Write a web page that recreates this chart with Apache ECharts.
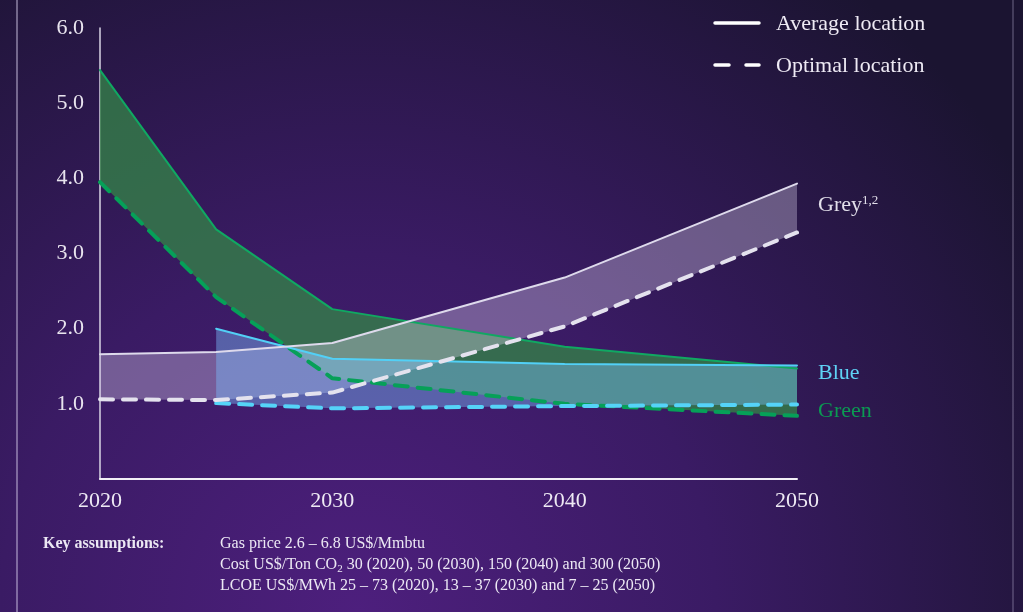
<!DOCTYPE html>
<html>
<head>
<meta charset="utf-8">
<script src="https://cdn.jsdelivr.net/npm/echarts@6/dist/echarts.min.js"></script>
<style>
html,body{margin:0;padding:0;background:#1c1530;}
#chart{width:1023px;height:612px;}
</style>
</head>
<body>
<div id="chart"></div>
<script>
// ---- data ----
const years = [2020, 2025, 2030, 2040, 2050];
const greyAvg  = [1.66, 1.69, 1.81, 2.68, 3.93];
const greyOpt  = [1.06, 1.05, 1.15, 2.03, 3.28];
const blueAvg  = [null, 2.00, 1.60, 1.53, 1.51];
const blueOpt  = [null, 1.01, 0.94, 0.97, 0.99];
const greenAvg = [5.44, 3.32, 2.26, 1.76, 1.47];
const greenOpt = [3.95, 2.42, 1.34, 1.00, 0.84];
const xTicks = [2020, 2030, 2040, 2050];
const yTicks = [0, 1, 2, 3, 4, 5, 6];
const bandNames = ['Grey', 'Blue', 'Green'];
const legendNames = ['Average location', 'Optimal location'];
const keyTitle = 'Key assumptions:';
const keyLines = [
  'Gas price 2.6 \u2013 6.8 US$/Mmbtu',
  'Cost US$/Ton CO{sub|2} 30 (2020), 50 (2030), 150 (2040) and 300 (2050)',
  'LCOE US$/MWh 25 \u2013 73 (2020), 13 \u2013 37 (2030) and 7 \u2013 25 (2050)'
];

// ---- helpers ----
const FONT = '"Liberation Serif", "Times New Roman", serif';
function pairs(v) {
  return years.map((y, i) => [y, v[i]]).filter(p => p[1] != null);
}
// filled band between optimal (lower) and average (upper) curves, placed through the axes
function band(name, opt, avg, fill) {
  return {
    type: 'custom', name: name + ' band', silent: true, z: 2,
    data: [[years[0], 0]],
    renderItem: function (params, api) {
      const top = pairs(avg).map(p => api.coord(p));
      const bottom = pairs(opt).map(p => api.coord(p)).reverse();
      return { type: 'polygon', shape: { points: top.concat(bottom) }, style: { fill: fill } };
    }
  };
}
function line(name, v, color, width, dashed) {
  return { type: 'line', name: name, data: pairs(v), symbol: 'none', silent: true, z: 3,
    lineStyle: { color: color, width: width, type: dashed ? [13, 10] : 'solid', cap: 'round' } };
}

const chart = echarts.init(document.getElementById('chart'), null, { renderer: 'canvas' });

const series = [
  band('Green', greenOpt, greenAvg, 'rgba(52,128,72,0.8)'),
  band('Grey', greyOpt, greyAvg, 'rgba(235,226,250,0.33)'),
  band('Blue', blueOpt, blueAvg, 'rgba(123,192,255,0.42)'),
  line('Green avg', greenAvg, '#10a862', 2, false),
  line('Green opt', greenOpt, '#06a058', 4, true),
  line('Blue avg', blueAvg, '#52d0f6', 2, false),
  line('Blue opt', blueOpt, '#55d3f8', 4, true),
  line('Grey avg', greyAvg, '#dedaec', 2, false),
  line('Grey opt', greyOpt, '#e4e2ee', 4, true)
];

const graphic = [
  { type: 'line', shape: { x1: 17, y1: 0, x2: 17, y2: 612 }, style: { stroke: 'rgba(215,205,235,0.6)', lineWidth: 1.5 }, silent: true },
  { type: 'line', shape: { x1: 1013, y1: 0, x2: 1013, y2: 612 }, style: { stroke: 'rgba(215,205,235,0.3)', lineWidth: 1.5 }, silent: true },
  // legend
  { type: 'line', shape: { x1: 715, y1: 23, x2: 759, y2: 23 }, style: { stroke: '#ffffff', lineWidth: 3.5, lineCap: 'round' }, silent: true },
  { type: 'line', shape: { x1: 715, y1: 65, x2: 759, y2: 65 }, style: { stroke: '#ffffff', lineWidth: 3.5, lineCap: 'round', lineDash: [14, 17] }, silent: true },
  { type: 'text', left: 776, top: 13, silent: true,
    style: { text: legendNames[0], font: '22px ' + FONT, fill: '#eeeaf4' } },
  { type: 'text', left: 776, top: 55, silent: true,
    style: { text: legendNames[1], font: '22px ' + FONT, fill: '#eeeaf4' } },
  // band labels
  { type: 'text', left: 818, top: 194, silent: true,
    style: { text: bandNames[0] + '{sup|1,2}', font: '22px ' + FONT, fill: '#e2dfea',
      rich: { sup: { fontSize: 13, fontFamily: FONT, fill: '#e2dfea', verticalAlign: 'top', padding: [0, 0, 8, 0] } } } },
  { type: 'text', left: 818, top: 362, silent: true,
    style: { text: bandNames[1], font: '22px ' + FONT, fill: '#5fd2f5' } },
  { type: 'text', left: 818, top: 400, silent: true,
    style: { text: bandNames[2], font: '22px ' + FONT, fill: '#0b9a52' } },
  { type: 'text', left: 43, top: 536, silent: true,
    style: { text: keyTitle, font: 'bold 16px ' + FONT, fill: '#ece8f4' } }
].concat(keyLines.map((t, i) => ({
  type: 'text', left: 220, top: 536 + i * 21, silent: true,
  style: { text: t, font: '16px ' + FONT, fill: '#ece8f4',
    rich: { sub: { fontSize: 11, fontFamily: FONT, fill: '#ece8f4', padding: [9, 0, 0, 0] } } }
})));

chart.setOption({
  animation: false,
  backgroundColor: {
    type: 'radial', x: 0.35, y: 1.0, r: 1.3,
    colorStops: [
      { offset: 0, color: '#4d1f7d' },
      { offset: 0.45, color: '#3a1b64' },
      { offset: 1, color: '#1b1431' }
    ]
  },
  grid: { left: 100, right: 226, top: 28, bottom: 133, containLabel: false },
  xAxis: {
    type: 'value', min: xTicks[0], max: xTicks[xTicks.length - 1], interval: xTicks[1] - xTicks[0],
    axisLine: { show: true, lineStyle: { color: '#f2f0f6', width: 2 } },
    axisTick: { show: false }, splitLine: { show: false },
    axisLabel: { color: '#eeeaf4', fontSize: 22, fontFamily: FONT, margin: 11, formatter: v => String(v) }
  },
  yAxis: {
    type: 'value', min: yTicks[0], max: yTicks[yTicks.length - 1], interval: yTicks[1] - yTicks[0],
    axisLine: { show: true, lineStyle: { color: '#d8d4e4', width: 1.5 } },
    axisTick: { show: false }, splitLine: { show: false },
    axisLabel: { color: '#e8e4ee', fontSize: 22, fontFamily: FONT, margin: 16,
      formatter: v => v === 0 ? '' : v.toFixed(1) }
  },
  series: series,
  graphic: graphic
});
</script>
</body>
</html>
